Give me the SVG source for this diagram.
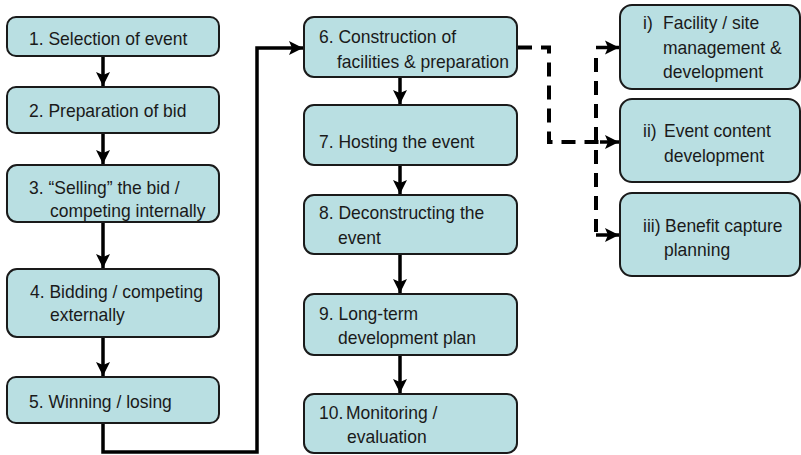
<svg xmlns="http://www.w3.org/2000/svg" width="801" height="455" viewBox="0 0 801 455">
  <style>
    .box { fill: #b9dfe2; stroke: #1a1a1a; stroke-width: 2; }
    .lbl { font-family: "Liberation Sans", Arial, sans-serif; font-size: 18.6px; fill: #1a1a1a; }
    .flow { fill: none; stroke: #000; stroke-width: 3.5; }
    .dash { fill: none; stroke: #000; stroke-width: 4; stroke-dasharray: 14 9; }
  </style>
  <defs>
    <marker id="ah" markerUnits="userSpaceOnUse" markerWidth="16" markerHeight="16" viewBox="0 0 16 16" refX="14" refY="8" orient="auto">
      <path d="M0,1 L14,8 L0,15 L3,8 Z" fill="#000"/>
    </marker>
  </defs>

  <!-- connectors -->
  <g id="connectors">
    <path class="flow" d="M103,56 V86" marker-end="url(#ah)"/>
    <path class="flow" d="M103,133 V164" marker-end="url(#ah)"/>
    <path class="flow" d="M103,222 V268" marker-end="url(#ah)"/>
    <path class="flow" d="M103,337 V376" marker-end="url(#ah)"/>
    <path class="flow" d="M103,423 V452 H257 V48 H303" marker-end="url(#ah)"/>
    <path class="flow" d="M400,77 V104" marker-end="url(#ah)"/>
    <path class="flow" d="M400,165 V194" marker-end="url(#ah)"/>
    <path class="flow" d="M400,254 V293" marker-end="url(#ah)"/>
    <path class="flow" d="M400,355 V393" marker-end="url(#ah)"/>
    <path class="dash" d="M518,47.5 H549 V142 H604"/>
    <path class="flow" d="M600,142 H619" marker-end="url(#ah)"/>
    <path class="dash" d="M596,58 V232"/>
    <path class="flow" d="M596,47.5 H619" marker-end="url(#ah)"/>
    <path class="flow" d="M596,235 H619" marker-end="url(#ah)"/>
  </g>

  <!-- labels are set slightly condensed: matrix(0.94 0 0 1 x y) -->
  <g id="n1">
    <rect class="box" x="7" y="17" width="212" height="39" rx="9"/>
    <text class="lbl" transform="matrix(0.94 0 0 1 29 45)">1. Selection of event</text>
  </g>
  <g id="n2">
    <rect class="box" x="7" y="87" width="212" height="46" rx="9"/>
    <text class="lbl" transform="matrix(0.94 0 0 1 29 117)">2. Preparation of bid</text>
  </g>
  <g id="n3">
    <rect class="box" x="7" y="165" width="212" height="57" rx="10"/>
    <text class="lbl" transform="matrix(0.94 0 0 1 29 194)">3. “Selling” the bid /</text>
    <text class="lbl" transform="matrix(0.94 0 0 1 50 217)">competing internally</text>
  </g>
  <g id="n4">
    <rect class="box" x="7" y="269" width="212" height="68" rx="10"/>
    <text class="lbl" transform="matrix(0.94 0 0 1 30 298)">4. Bidding / competing</text>
    <text class="lbl" transform="matrix(0.94 0 0 1 50 321)">externally</text>
  </g>
  <g id="n5">
    <rect class="box" x="7" y="377" width="212" height="46" rx="9"/>
    <text class="lbl" transform="matrix(0.94 0 0 1 29 408)">5. Winning / losing</text>
  </g>

  <g id="n6">
    <rect class="box" x="304" y="17" width="213" height="60" rx="10"/>
    <text class="lbl" transform="matrix(0.94 0 0 1 319 43)">6. Construction of</text>
    <text class="lbl" transform="matrix(0.94 0 0 1 337 68)">facilities &amp; preparation</text>
  </g>
  <g id="n7">
    <rect class="box" x="304" y="105" width="213" height="60" rx="10"/>
    <text class="lbl" transform="matrix(0.94 0 0 1 319 148)">7. Hosting the event</text>
  </g>
  <g id="n8">
    <rect class="box" x="304" y="195" width="213" height="59" rx="10"/>
    <text class="lbl" transform="matrix(0.94 0 0 1 319 219)">8. Deconstructing the</text>
    <text class="lbl" transform="matrix(0.94 0 0 1 338 244)">event</text>
  </g>
  <g id="n9">
    <rect class="box" x="304" y="294" width="213" height="61" rx="10"/>
    <text class="lbl" transform="matrix(0.94 0 0 1 319 320)">9. Long-term</text>
    <text class="lbl" transform="matrix(0.94 0 0 1 338 344)">development plan</text>
  </g>
  <g id="n10">
    <rect class="box" x="304" y="394" width="213" height="59" rx="10"/>
    <text class="lbl" transform="matrix(0.94 0 0 1 319 419)">10.</text>
    <text class="lbl" transform="matrix(0.94 0 0 1 346 419)">Monitoring /</text>
    <text class="lbl" transform="matrix(0.94 0 0 1 347 443)">evaluation</text>
  </g>

  <g id="ni">
    <rect class="box" x="620" y="5" width="180" height="84" rx="12"/>
    <text class="lbl" transform="matrix(0.94 0 0 1 643 29)">i)</text>
    <text class="lbl" transform="matrix(0.94 0 0 1 663 29)">Facility / site</text>
    <text class="lbl" transform="matrix(0.94 0 0 1 663 54)">management &amp;</text>
    <text class="lbl" transform="matrix(0.94 0 0 1 663 78)">development</text>
  </g>
  <g id="nii">
    <rect class="box" x="620" y="99" width="180" height="83" rx="12"/>
    <text class="lbl" transform="matrix(0.94 0 0 1 643 137)">ii)</text>
    <text class="lbl" transform="matrix(0.94 0 0 1 664 137)">Event content</text>
    <text class="lbl" transform="matrix(0.94 0 0 1 664 162)">development</text>
  </g>
  <g id="niii">
    <rect class="box" x="620" y="193" width="180" height="83" rx="12"/>
    <text class="lbl" transform="matrix(0.94 0 0 1 643 232)">iii)</text>
    <text class="lbl" transform="matrix(0.94 0 0 1 665 232)">Benefit capture</text>
    <text class="lbl" transform="matrix(0.94 0 0 1 664 256)">planning</text>
  </g>
</svg>
